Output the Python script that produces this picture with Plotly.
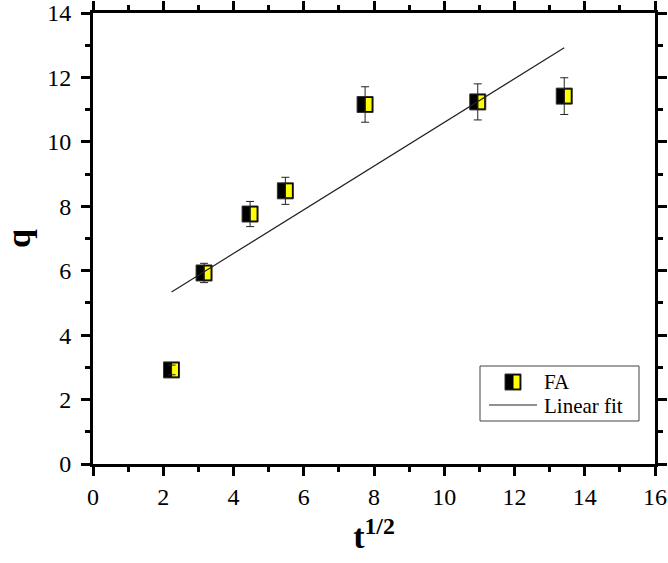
import plotly.graph_objects as go

# Data
t_half = [2.236, 3.162, 4.472, 5.477, 7.746, 10.954, 13.416]
q = [2.92, 5.93, 7.76, 8.48, 11.16, 11.24, 11.42]
q_err = [0.15, 0.30, 0.39, 0.42, 0.55, 0.56, 0.57]
fit_x = [2.236, 13.416]
fit_y = [5.34, 12.92]

x_ticks = [0, 2, 4, 6, 8, 10, 12, 14, 16]
y_ticks = [0, 2, 4, 6, 8, 10, 12, 14]

FONT = "Liberation Serif"

fig = go.Figure()

# error bars
fig.add_trace(go.Scatter(
    x=t_half, y=q, mode="markers",
    marker=dict(size=1, color="rgba(0,0,0,0)"),
    error_y=dict(type="data", array=q_err, visible=True, color="#222", thickness=1, width=4),
    showlegend=False, hoverinfo="skip"))

# linear fit
fig.add_trace(go.Scatter(
    x=fit_x, y=fit_y, mode="lines",
    line=dict(color="#222", width=1.2), showlegend=False))

shapes = []
for xv, yv in zip(t_half, q):
    shapes.append(dict(type="rect", xref="x", yref="y", layer="between",
                       xsizemode="pixel", ysizemode="pixel", xanchor=xv, yanchor=yv,
                       x0=-8, x1=8, y0=-8, y1=8,
                       fillcolor="black", line=dict(color="#333", width=1)))
    shapes.append(dict(type="rect", xref="x", yref="y", layer="between",
                       xsizemode="pixel", ysizemode="pixel", xanchor=xv, yanchor=yv,
                       x0=0, x1=7, y0=-7, y1=7,
                       fillcolor="#ffff00", line=dict(color="black", width=1)))

# manual legend (paper coords; pixel positions measured in the window)
def px_x(p):
    return (p - 93) / 562.0

def px_y(p):
    return (464 - p) / 451.0

shapes.append(dict(type="rect", xref="paper", yref="paper",
                   x0=px_x(480), x1=px_x(639), y0=px_y(421), y1=px_y(366),
                   fillcolor="white", line=dict(color="#444", width=1), layer="above"))
shapes.append(dict(type="rect", xref="paper", yref="paper", layer="above",
                   xsizemode="pixel", ysizemode="pixel", xanchor=px_x(513), yanchor=px_y(382),
                   x0=-8, x1=8, y0=-8, y1=8,
                   fillcolor="black", line=dict(color="#333", width=1)))
shapes.append(dict(type="rect", xref="paper", yref="paper", layer="above",
                   xsizemode="pixel", ysizemode="pixel", xanchor=px_x(513), yanchor=px_y(382),
                   x0=0, x1=7, y0=-7, y1=7,
                   fillcolor="#ffff00", line=dict(color="black", width=1)))
shapes.append(dict(type="line", xref="paper", yref="paper", layer="above",
                   x0=px_x(489), x1=px_x(537), y0=px_y(405), y1=px_y(405),
                   line=dict(color="#222", width=1.2)))

annotations = [
    dict(xref="paper", yref="paper", x=px_x(542), y=px_y(382), text="FA",
         showarrow=False, xanchor="left", yanchor="middle",
         font=dict(family=FONT, size=21, color="black")),
    dict(xref="paper", yref="paper", x=px_x(542), y=px_y(406), text="Linear fit",
         showarrow=False, xanchor="left", yanchor="middle",
         font=dict(family=FONT, size=21, color="black")),
]

axis_common = dict(
    showline=True, linecolor="black", linewidth=3, mirror="ticks",
    ticks="outside", ticklen=9, tickwidth=3, tickcolor="black",
    showgrid=False, zeroline=False, automargin=False, ticklabeloverflow="allow",
    tickfont=dict(family=FONT, size=24, color="black"),
)

fig.update_layout(
    width=668, height=563,
    margin=dict(l=93, r=13, t=13, b=99),
    paper_bgcolor="white", plot_bgcolor="white",
    shapes=shapes, annotations=annotations,
    showlegend=False,
    xaxis=dict(range=[0, 16], tickvals=x_ticks,
               minor=dict(dtick=1, tick0=0, ticks="outside", ticklen=5, tickwidth=3, tickcolor="black"),
               title=dict(text="<b>t<sup>1/2</sup></b>", font=dict(family=FONT, size=34, color="black"), standoff=16),
               **axis_common),
    yaxis=dict(range=[0, 14], tickvals=y_ticks, ticklabelstandoff=5,
               minor=dict(dtick=1, tick0=0, ticks="outside", ticklen=5, tickwidth=3, tickcolor="black"),
               title=dict(text="<b>q</b>", font=dict(family=FONT, size=34, color="black"), standoff=10),
               **axis_common),
)

fig.write_html("out.html", config={"displayModeBar": False},
               post_script="document.body.style.margin='0';")
